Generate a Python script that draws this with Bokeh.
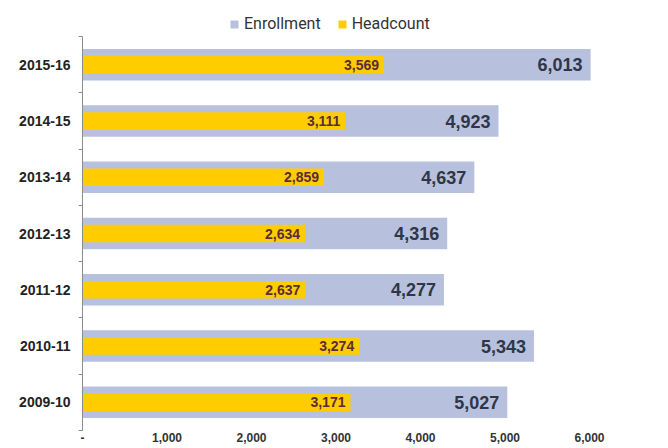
import numpy as np
from bokeh.plotting import figure
from bokeh.models import (ColumnDataSource, Range1d, LinearAxis, FixedTicker, Legend, LegendItem)
from bokeh.core.properties import value
from bokeh.embed import file_html
from bokeh.resources import INLINE

# ---- data (top-to-bottom as shown in the chart) ----
years = ["2015-16", "2014-15", "2013-14", "2012-13", "2011-12", "2010-11", "2009-10"]
enrollment = [6013, 4923, 4637, 4316, 4277, 5343, 5027]
headcount = [3569, 3111, 2859, 2634, 2637, 3274, 3171]
x_ticks = [0, 1000, 2000, 3000, 4000, 5000, 6000]
x_tick_labels = ["-", "1,000", "2,000", "3,000", "4,000", "5,000", "6,000"]

ENR_COLOR = "#B7C1DE"
HC_COLOR = "#FFCC00"
FONT = "Liberation Sans"

n = len(years)
pos = (n - 1 - np.arange(n) + 0.5).tolist()   # band centres, first category on top
bounds = list(range(n + 1))

src = ColumnDataSource(dict(
    y=pos, year=years, enr=enrollment, hc=headcount,
    enr_lbl=[f"{v:,}" for v in enrollment],
    hc_lbl=[f"{v:,}" for v in headcount],
))

p = figure(width=660, height=444, output_backend="svg", toolbar_location=None,
           y_range=Range1d(0, n + 0.643), x_range=Range1d(0, 6840),
           x_axis_location=None, y_axis_location=None,
           min_border_left=82, min_border_right=0, min_border_top=0, min_border_bottom=0)
p.outline_line_color = None
p.grid.grid_line_color = None
p.background_fill_color = "white"

# x axis
xaxis = LinearAxis(ticker=FixedTicker(ticks=x_ticks),
                   major_label_overrides=dict(zip(x_ticks, x_tick_labels)),
                   axis_line_color=None, major_tick_line_color=None, minor_tick_line_color=None,
                   major_tick_out=0, major_tick_in=0, major_label_standoff=2,
                   major_label_text_font=FONT, major_label_text_font_style="bold",
                   major_label_text_font_size="12px", major_label_text_color="#333333")
p.add_layout(xaxis, "below")

# y axis line with ticks at band boundaries (no labels)
tick_axis = LinearAxis(ticker=FixedTicker(ticks=bounds), bounds=(0, n),
                       major_label_overrides={b: "" for b in bounds},
                       major_label_standoff=0,
                       axis_line_color="#8C8C8C", major_tick_line_color="#8C8C8C",
                       major_tick_out=4, major_tick_in=0, minor_tick_line_color=None)
p.add_layout(tick_axis, "left")

# category labels at band centres
cat_axis = LinearAxis(ticker=FixedTicker(ticks=pos),
                      major_label_overrides=dict(zip(pos, years)),
                      axis_line_color=None, major_tick_line_color=None, minor_tick_line_color=None,
                      major_tick_out=0, major_tick_in=0, major_label_standoff=8,
                      major_label_text_font=FONT, major_label_text_font_style="bold",
                      major_label_text_font_size="14px", major_label_text_color="#222222")
p.add_layout(cat_axis, "left")

# bars
r_enr = p.hbar(y="y", left=0, right="enr", height=0.56, fill_color=ENR_COLOR,
               line_color=None, source=src)
r_hc = p.hbar(y="y", left=0, right="hc", height=0.31, fill_color=HC_COLOR,
              line_color=None, source=src)

# value labels
p.text(x="enr", y="y", text="enr_lbl", x_offset=-8, text_align="right", text_baseline="middle",
       text_font=value(FONT), text_font_style="bold", text_font_size="18px",
       text_color="#2F3646", source=src)
p.text(x="hc", y="y", text="hc_lbl", x_offset=-5, text_align="right", text_baseline="middle",
       text_font=value(FONT), text_font_style="bold", text_font_size="14px",
       text_color="#5A2C3A", source=src)

legend = Legend(items=[LegendItem(label="Enrollment", renderers=[r_enr]),
                       LegendItem(label="Headcount", renderers=[r_hc])],
                orientation="horizontal", location=(147, 397),
                border_line_color=None, background_fill_alpha=0, padding=0, margin=0,
                spacing=16, label_standoff=5, glyph_width=10, glyph_height=10, label_height=16,
                label_text_font="Roboto", label_text_font_size="16px", label_text_color="#333333")
p.add_layout(legend, "center")

open("out.html", "w").write(file_html(p, INLINE))
